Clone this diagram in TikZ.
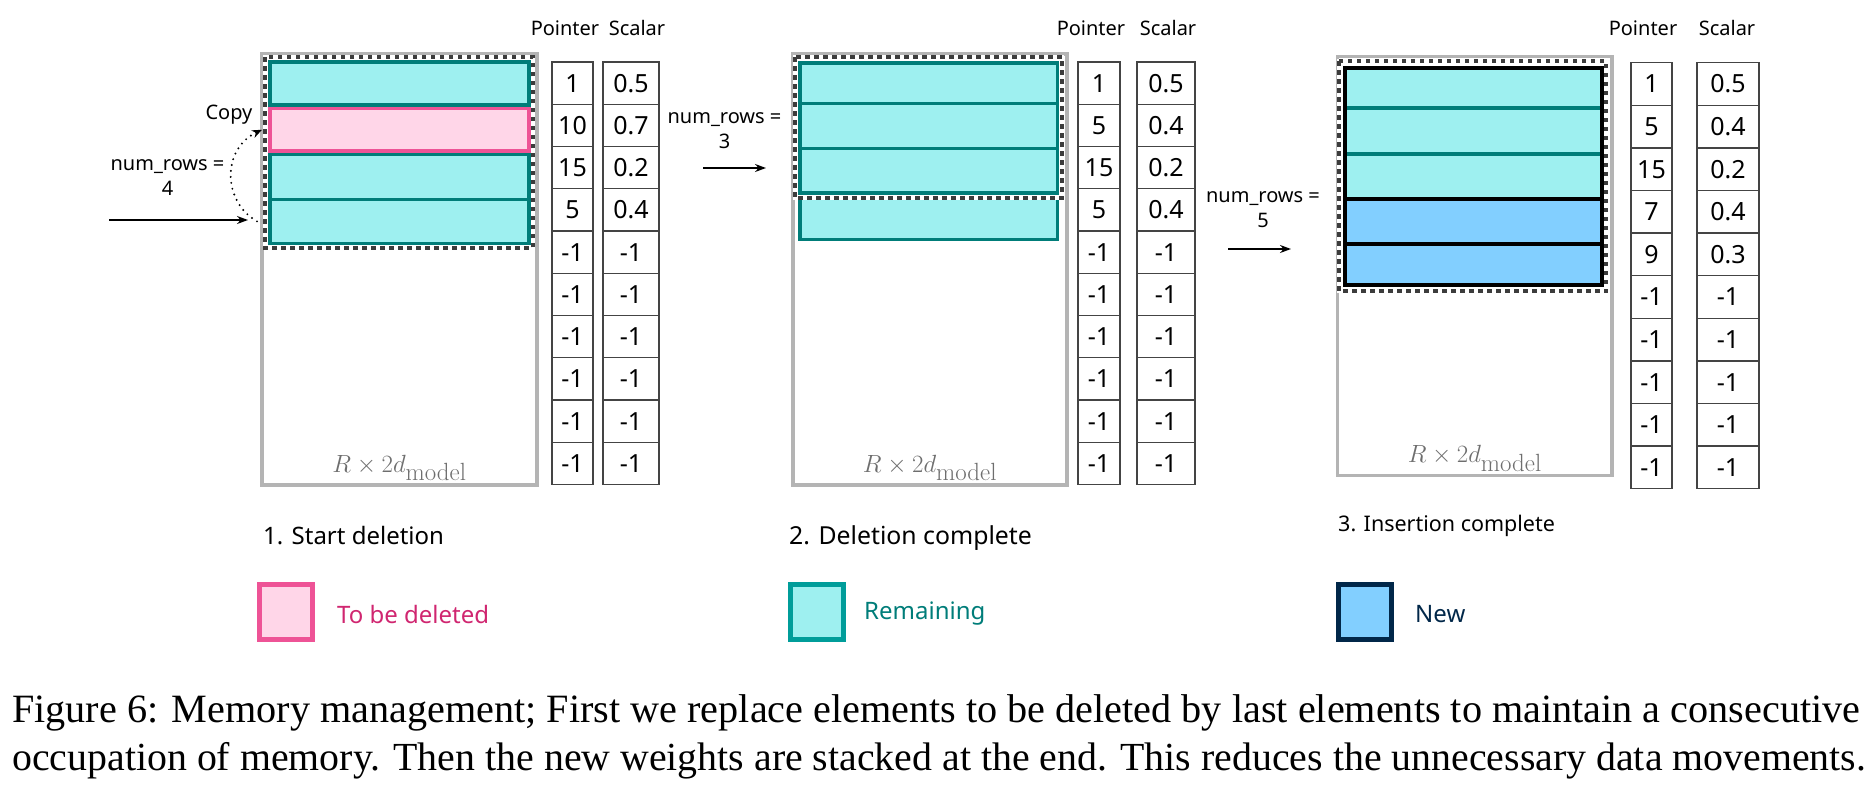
\documentclass[tikz,border=0pt]{standalone}
\usepackage{graphicx}
\usepackage[no-math]{fontspec}
\setmainfont{Noto Sans}
\newfontfamily\capfont{Liberation Serif}
\usetikzlibrary{arrows.meta}
\definecolor{tealF}{HTML}{9EF0F0}
\definecolor{tealD}{HTML}{007D79}
\definecolor{tealL}{HTML}{009D9A}
\definecolor{pinkF}{HTML}{FFD6E8}
\definecolor{pinkD}{HTML}{EE5396}
\definecolor{magT}{HTML}{D02670}
\definecolor{blueF}{HTML}{82CFFF}
\definecolor{navy}{HTML}{012749}
\definecolor{grayB}{HTML}{B4B4B4}
\definecolor{dashD}{HTML}{3C3C3C}
\definecolor{cellD}{HTML}{444444}
\definecolor{labG}{HTML}{6E6E6E}
\newcommand\memcol[6]{%
  \foreach \v [count=\i] in {#6}{%
    \node[cell, minimum width=#3pt, minimum height=#5pt] (#1\i) at (#2, {#4+(\i-0.5)*#5}) {\v};
  }}
% row node: style, name, xcenter, width, top, bottom
\newcommand\memrow[6]{%
  \node[#1, minimum width=#4pt, minimum height={(#6)-(#5)}] (#2) at (#3, {((#5)+(#6))/2}) {};}
\begin{document}
\begin{tikzpicture}[x=1pt,y=-1pt,
  rowbox/.style={draw, line width=3.5pt, outer sep=0pt, inner sep=0pt},
  tealrow/.style={rowbox, draw=tealD, fill=tealF},
  pinkrow/.style={rowbox, draw=pinkD, fill=pinkF},
  bluerow/.style={rowbox, draw=black, line width=4pt, fill=blueF},
  membox/.style={draw=grayB, line width=3.5pt, inner sep=0pt, outer sep=0pt},
  dashbox/.style={line width=4.5pt, draw=white, postaction={draw=dashD, dash pattern=on 4.5pt off 4.5pt}},
  cell/.style={draw=cellD, line width=1.3pt, inner sep=0pt, font=\fontsize{25}{30}\selectfont},
  headtxt/.style={anchor=base, inner sep=0pt, font=\fontsize{20}{24}\selectfont},
  numtxt/.style={align=center, inner sep=0pt, font=\fontsize{20}{25}\selectfont},
  steptxt/.style={anchor=base west, inner sep=0pt},
  legtxt/.style={anchor=west, inner sep=0pt, font=\fontsize{24}{28}\selectfont},
  legsq/.style={line width=5pt, minimum width=53pt, minimum height=55pt, inner sep=0pt, outer sep=0pt},
  dimtxt/.style={anchor=base, inner sep=0pt, text=labG, font=\fontsize{33}{40}\selectfont},
  arr/.style={-{Stealth[length=11pt,width=8pt]}, line width=1.6pt},
  dotarr/.style={line width=2.2pt, dash pattern=on 0pt off 6pt, line cap=round, -{Stealth[length=10pt,width=8pt]}},
  captxt/.style={anchor=base west, inner sep=0pt}
]
\useasboundingbox (0,0) rectangle (1876,790);

% ---------------- Panel 1 ----------------
\node[membox, minimum width=275pt, minimum height=431pt] (g1) at (399.5,269.5) {};
\memrow{tealrow}{p1r1}{399.5}{259}{61.75}{105}
\memrow{pinkrow}{p1r2}{399.5}{259}{108.5}{151}
\memrow{tealrow}{p1r3}{399.5}{259}{154.5}{199.5}
\memrow{tealrow}{p1r4}{399.5}{259}{199.5}{243.25}
\draw[dashbox] (265,57.2) rectangle (533,247.8);
\node[dimtxt] (d1) at ([yshift=13pt]g1.south) {$R\times 2d_{\mathrm{model}}$};
\memcol{p1p}{572.5}{41}{62}{42.25}{1,10,15,5,-1,-1,-1,-1,-1,-1}
\memcol{p1s}{631}{56}{62}{42.25}{0.5,0.7,0.2,0.4,-1,-1,-1,-1,-1,-1}
\node[headtxt] (h1p) at (565,35) {Pointer};
\node[headtxt] (h1s) at (637,35) {Scalar};
\node[numtxt] (n1) at (167.5,178) {num\_rows =\\4};
\coordinate (a1s) at (109,220);
\coordinate (a1e) at (248,220);
\draw[arr] (a1s) -- (a1e);
\node[anchor=base, inner sep=0pt, font=\fontsize{20}{24}\selectfont] (cp) at (229,119) {Copy};
\draw[dotarr] ([xshift=-13pt]p1r4.west) .. controls +(-35,-20) and +(-40,19) .. ([xshift=-8pt]p1r2.west);
\node[steptxt, font=\fontsize{24}{28}\selectfont] (s1) at (263,544) {1. Start deletion};

% ---------------- Panel 2 ----------------
\node[membox, minimum width=274pt, minimum height=431pt] (g2) at (930,269.5) {};
\memrow{tealrow}{p2r1}{928.5}{257.5}{62.75}{103.5}
\memrow{tealrow}{p2r2}{928.5}{257.5}{103.5}{148.3}
\memrow{tealrow}{p2r3}{928.5}{257.5}{148.3}{193.2}
\memrow{tealrow}{p2r4}{928.5}{257.5}{197.5}{239.5}
\draw[dashbox] (795,57.2) rectangle (1062,198);
\node[dimtxt] (d2) at ([yshift=13pt]g2.south) {$R\times 2d_{\mathrm{model}}$};
\memcol{p2p}{1099}{42}{62}{42.25}{1,5,15,5,-1,-1,-1,-1,-1,-1}
\memcol{p2s}{1166}{58}{62}{42.25}{0.5,0.4,0.2,0.4,-1,-1,-1,-1,-1,-1}
\node[headtxt] (h2p) at (1091,35) {Pointer};
\node[headtxt] (h2s) at (1168,35) {Scalar};
\node[numtxt] (n2) at (724.5,131) {num\_rows =\\3};
\coordinate (a2s) at (703,168);
\coordinate (a2e) at (766,168);
\draw[arr] (a2s) -- (a2e);
\node[steptxt, font=\fontsize{24.8}{29}\selectfont] (s2) at (789,544) {2. Deletion complete};

% ---------------- Panel 3 ----------------
\node[membox, minimum width=274.5pt, minimum height=418.75pt] (g3) at (1474.75,266.1) {};
\memrow{tealrow}{p3r1}{1473.5}{257}{68}{108}
\memrow{tealrow}{p3r2}{1473.5}{257}{108}{154}
\memrow{tealrow}{p3r3}{1473.5}{257}{154}{199}
\memrow{bluerow}{p3r4}{1473.5}{257}{199}{244}
\memrow{bluerow}{p3r5}{1473.5}{257}{244}{285}
\draw[line width=4.5pt] (p3r1.north west) rectangle (p3r5.south east);
\draw[dashbox] (1339,61) rectangle (1606,291);
\node[dimtxt] (d3) at ([yshift=13pt]g3.south) {$R\times 2d_{\mathrm{model}}$};
\memcol{p3p}{1651.5}{41}{62.7}{42.6}{1,5,15,7,9,-1,-1,-1,-1,-1}
\memcol{p3s}{1728}{62}{62.7}{42.6}{0.5,0.4,0.2,0.4,0.3,-1,-1,-1,-1,-1}
\node[headtxt] (h3p) at (1643,35) {Pointer};
\node[headtxt] (h3s) at (1727,35) {Scalar};
\node[numtxt] (n3) at (1263,210) {num\_rows =\\5};
\coordinate (a3s) at (1228,249);
\coordinate (a3e) at (1291,249);
\draw[arr] (a3s) -- (a3e);
\node[steptxt, font=\fontsize{21.5}{26}\selectfont] (s3) at (1338,531) {3. Insertion complete};

% ---------------- Legend ----------------
\node[legsq, draw=pinkD, fill=pinkF] (lg1) at (286,612) {};
\node[legtxt, text=magT] (lt1) at (337,614) {To be deleted};
\node[legsq, draw=tealL, fill=tealF] (lg2) at (816.5,612) {};
\node[legtxt, text=tealD] (lt2) at (864,614) {Remaining};
\node[legsq, draw=navy, fill=blueF] (lg3) at (1365,612) {};
\node[legtxt, text=navy] (lt3) at (1415,614) {New};

% ---------------- Caption ----------------
\node[captxt] (c1) at (12,722) {\resizebox{1848pt}{!}{\capfont\fontsize{38}{46}\selectfont Figure 6: Memory management; First we replace elements to be deleted by last elements to maintain a consecutive}};
\node[captxt] (c2) at (12,770) {\resizebox{1854pt}{!}{\capfont\fontsize{38}{46}\selectfont occupation of memory. Then the new weights are stacked at the end. This reduces the unnecessary data movements.}};
\end{tikzpicture}
\end{document}
